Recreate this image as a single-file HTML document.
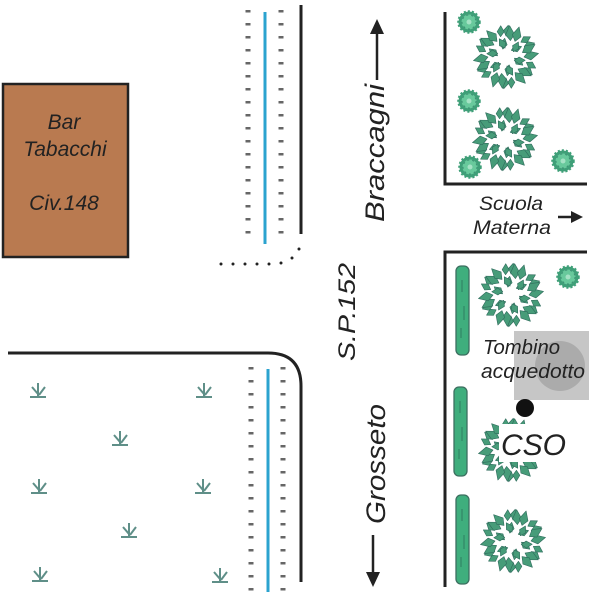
<!DOCTYPE html>
<html><head><meta charset="utf-8"><style>
html,body{margin:0;padding:0;background:#fff;width:600px;height:600px;overflow:hidden}
svg{display:block}
text{font-family:"Liberation Sans",sans-serif;font-style:italic;fill:#222}
</style></head><body>
<svg width="600" height="600" viewBox="0 0 600 600" xmlns="http://www.w3.org/2000/svg">
<defs>
<path id="l" d="M0,0 L6,-4.5 L15,0 L6,4.5Z" fill="#479c79" stroke="#2f6b5c" stroke-width=".6" stroke-linejoin="round"/>
<path id="m" d="M0,0 L5,-3.5 L11,0 L5,3.5Z" fill="#479c79" stroke="#2f6b5c" stroke-width=".6" stroke-linejoin="round"/>
<g id="s1">
<use href="#l" transform="translate(18,0) rotate(-14)"/>
<use href="#m" transform="rotate(15) translate(21,0) rotate(16)"/>
<use href="#m" transform="rotate(8) translate(8.5,0) rotate(32)"/>
</g>
<g id="s2">
<use href="#m" transform="translate(21,0) rotate(12)"/>
<use href="#l" transform="rotate(15) translate(17,0) rotate(-18)"/>
<use href="#m" transform="rotate(-6) translate(9,0) rotate(-26)"/>
</g>
<g id="bush">
<use href="#s1"/><use href="#s2" transform="rotate(30)"/>
<use href="#s1" transform="rotate(60)"/><use href="#s2" transform="rotate(90)"/>
<use href="#s1" transform="rotate(120)"/><use href="#s2" transform="rotate(150)"/>
<use href="#s1" transform="rotate(180)"/><use href="#s2" transform="rotate(210)"/>
<use href="#s1" transform="rotate(240)"/><use href="#s2" transform="rotate(270)"/>
<use href="#s1" transform="rotate(300)"/><use href="#s2" transform="rotate(330)"/>
</g>
<g id="small">
<circle r="10.5" fill="#3f9f78" stroke="#3f9f78" stroke-width="2.5" stroke-dasharray="2 2"/>
<circle r="7.5" fill="#68c99c"/>
<circle r="7" fill="none" stroke="#3b8f72" stroke-width="1" stroke-dasharray="2 3"/>
<circle r="2.5" fill="#a5e2c5"/>
</g>
<g id="grass" fill="none" stroke="#5f8f88" stroke-width="2">
<path d="M-8,6H8"/>
<path d="M0,6 L0,-8M0,3 L-6,-4M1,4 L7,-4"/>
</g>
<g id="hedge">
<rect x="0" y="0" width="13" height="89" rx="5" fill="#3fae7d" stroke="#3c6f60" stroke-width="1.3"/>
<path d="M6,14V26M8,40V54M5,62V72" stroke="#2f7d61" stroke-width="1" fill="none"/>
</g>
</defs>

<!-- bar -->
<rect x="3" y="84" width="125" height="173" fill="#b97a50" stroke="#222" stroke-width="2.5"/>
<g font-size="21" text-anchor="middle">
<text x="64" y="129">Bar</text>
<text x="65" y="156">Tabacchi</text>
<text x="64" y="210">Civ.148</text>
</g>

<!-- upper road -->
<path d="M301,5V234" stroke="#222" stroke-width="3" fill="none"/>
<path d="M265,12V244" stroke="#2ba3cf" stroke-width="3" fill="none"/>
<path d="M248,10V234M281,10V234" stroke="#666" stroke-width="5" stroke-dasharray="2.5 10.5" fill="none"/>
<g fill="#222">
<circle cx="221" cy="264" r="1.5"/><circle cx="233" cy="264" r="1.5"/><circle cx="245" cy="264" r="1.5"/>
<circle cx="257" cy="264" r="1.5"/><circle cx="269" cy="264" r="1.5"/><circle cx="281" cy="263" r="1.5"/>
<circle cx="292" cy="258" r="1.5"/><circle cx="299" cy="249" r="1.5"/>
</g>

<!-- lower road -->
<path d="M8,353H268Q301,353 301,386V582" stroke="#222" stroke-width="3" fill="none"/>
<path d="M268,369V592" stroke="#2ba3cf" stroke-width="3" fill="none"/>
<path d="M251,367V592M283,367V592" stroke="#666" stroke-width="5" stroke-dasharray="2.5 10.5" fill="none"/>

<!-- grass -->
<use href="#grass" x="38" y="391"/><use href="#grass" x="204" y="391"/>
<use href="#grass" x="120" y="439"/><use href="#grass" x="39" y="487"/>
<use href="#grass" x="203" y="487"/><use href="#grass" x="129" y="531"/>
<use href="#grass" x="40" y="575"/><use href="#grass" x="220" y="576"/>

<!-- road labels -->
<text transform="translate(355,361) rotate(-90)" font-size="24" textLength="98" lengthAdjust="spacingAndGlyphs">S.P.152</text>
<text transform="translate(384,222) rotate(-90)" font-size="27" textLength="138" lengthAdjust="spacingAndGlyphs">Braccagni</text>
<text transform="translate(385,524) rotate(-90)" font-size="27" textLength="120" lengthAdjust="spacingAndGlyphs">Grosseto</text>
<path d="M377,80V30" stroke="#222" stroke-width="2.5"/>
<path d="M377,19L370,34H384Z" fill="#222"/>
<path d="M373,535V576" stroke="#222" stroke-width="2.5"/>
<path d="M373,587L366,572H380Z" fill="#222"/>

<!-- walls -->
<path d="M445,12V184H587" stroke="#222" stroke-width="3" fill="none"/>
<path d="M587,252H445V587" stroke="#222" stroke-width="3" fill="none"/>

<!-- school -->
<g font-size="19.5"><text x="479" y="210" textLength="64" lengthAdjust="spacingAndGlyphs">Scuola</text><text x="473" y="234" textLength="78" lengthAdjust="spacingAndGlyphs">Materna</text></g>
<path d="M558,217H574" stroke="#222" stroke-width="2.5"/>
<path d="M583,217L571,211V223Z" fill="#222"/>

<!-- upper vegetation -->
<use href="#bush" x="506" y="57"/><use href="#bush" x="505" y="139"/>
<use href="#small" x="469" y="22"/><use href="#small" x="469" y="101"/>
<use href="#small" x="470" y="167"/><use href="#small" x="563" y="161"/>

<!-- hedges -->
<use href="#hedge" x="456" y="266"/>
<use href="#hedge" x="454" y="387"/>
<use href="#hedge" x="456" y="495"/>

<!-- lower vegetation -->
<use href="#bush" x="511" y="295"/><use href="#small" x="568" y="277"/>
<use href="#bush" x="511" y="450"/><use href="#bush" x="513" y="541"/>

<!-- manhole -->
<rect x="514" y="331" width="75" height="69" fill="#c6c6c6"/>
<circle cx="560" cy="366" r="25" fill="#ababab"/>
<g font-size="20.5"><text x="483" y="354" textLength="77" lengthAdjust="spacingAndGlyphs">Tombino</text><text x="481" y="378" textLength="104" lengthAdjust="spacingAndGlyphs">acquedotto</text></g>
<circle cx="525" cy="408" r="9" fill="#111"/>

<!-- CSO -->
<rect x="499" y="424" width="72" height="38" fill="#fff"/>
<text x="501" y="455" font-size="30">CSO</text>
</svg>
</body></html>
